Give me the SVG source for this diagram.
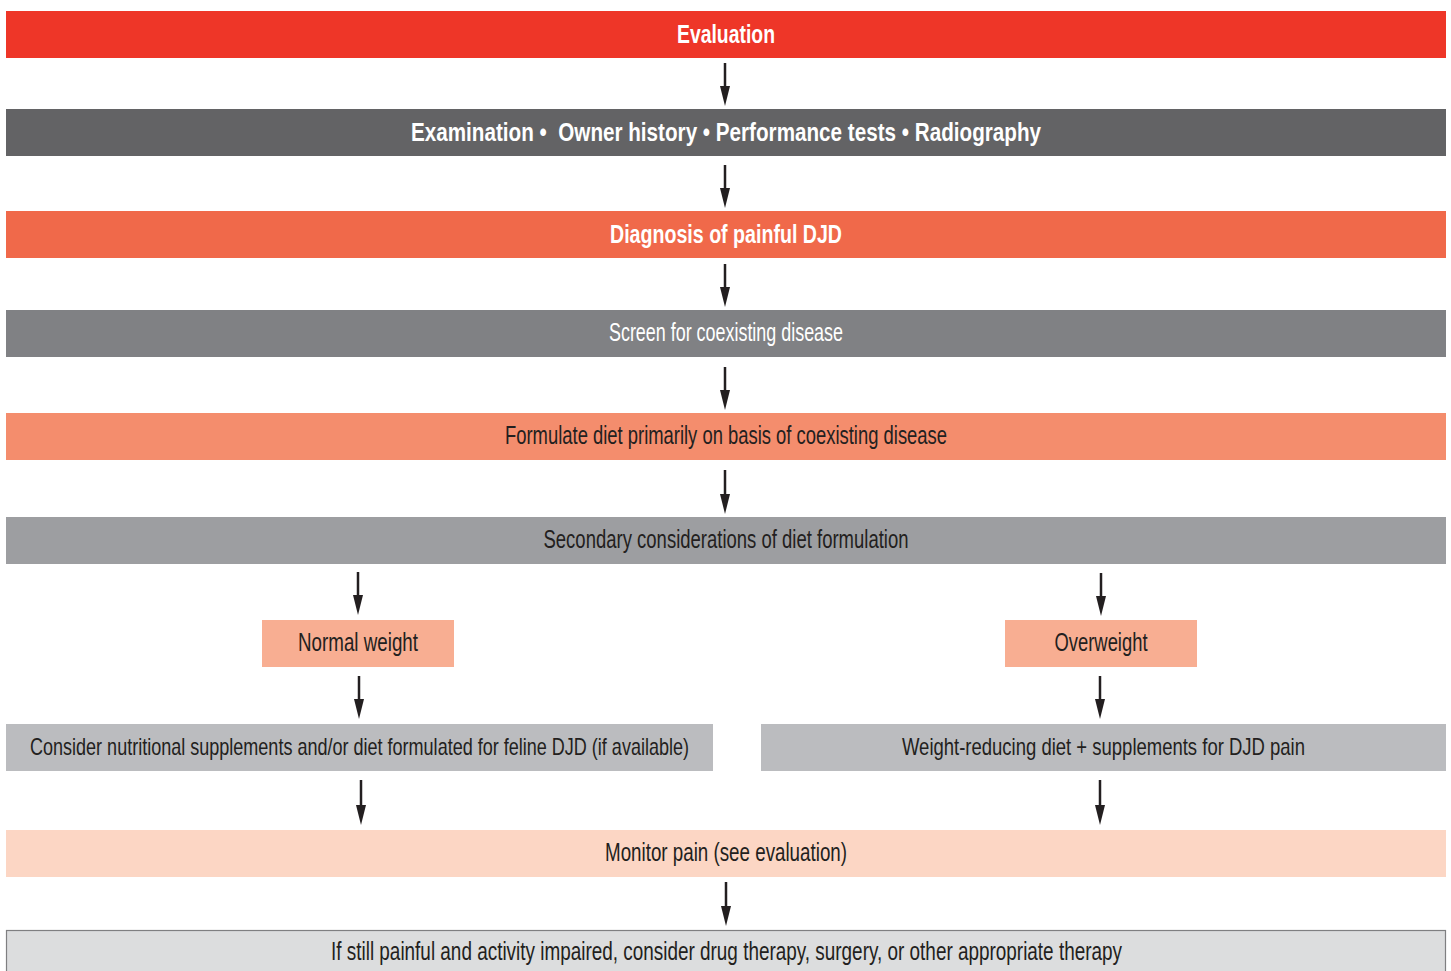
<svg xmlns="http://www.w3.org/2000/svg" width="1451" height="971" viewBox="0 0 1451 971">
<defs>
<marker id="ah" viewBox="0 0 20 10" refX="10" refY="5" markerWidth="20" markerHeight="10" markerUnits="userSpaceOnUse" orient="auto">
<path d="M0,0 L20,5 L0,10 Z" fill="#231F20"/>
</marker>
</defs>
<style>
text{font-family:"Liberation Sans Narrow","Liberation Sans",Arial,sans-serif;font-size:26px;text-anchor:middle}
.s{font-size:24px}
.w{fill:#FFFFFF}
.wb{fill:#FFFFFF;font-weight:bold}
.d{fill:#231F20}
.c line{stroke:#231F20;stroke-width:2.5;marker-end:url(#ah)}
</style>
<rect width="1451" height="971" fill="#FFFFFF"/>
<g id="n1"><rect x="6" y="11" width="1440" height="47" fill="#EE3628"/><text class="wb" x="726" y="43" textLength="98" lengthAdjust="spacingAndGlyphs">Evaluation</text></g>
<g id="n2"><rect x="6" y="109" width="1440" height="47" fill="#636365"/><text class="wb" x="726" y="141" textLength="630" lengthAdjust="spacingAndGlyphs" xml:space="preserve">Examination •  Owner history • Performance tests • Radiography</text></g>
<g id="n3"><rect x="6" y="211" width="1440" height="47" fill="#F0694A"/><text class="wb" x="726" y="243" textLength="232" lengthAdjust="spacingAndGlyphs">Diagnosis of painful DJD</text></g>
<g id="n4"><rect x="6" y="310" width="1440" height="47" fill="#808184"/><text class="w" x="726" y="341" textLength="234" lengthAdjust="spacingAndGlyphs">Screen for coexisting disease</text></g>
<g id="n5"><rect x="6" y="413" width="1440" height="47" fill="#F48D6D"/><text class="d" x="726" y="444" textLength="442" lengthAdjust="spacingAndGlyphs">Formulate diet primarily on basis of coexisting disease</text></g>
<g id="n6"><rect x="6" y="517" width="1440" height="47" fill="#9D9EA1"/><text class="d" x="726" y="548" textLength="365" lengthAdjust="spacingAndGlyphs">Secondary considerations of diet formulation</text></g>
<g id="n7"><rect x="262" y="620" width="192" height="47" fill="#F8AE92"/><text class="d" x="358" y="651" textLength="120" lengthAdjust="spacingAndGlyphs">Normal weight</text></g>
<g id="n8"><rect x="1005" y="620" width="192" height="47" fill="#F8AE92"/><text class="d" x="1101" y="651" textLength="93" lengthAdjust="spacingAndGlyphs">Overweight</text></g>
<g id="n9"><rect x="6" y="724" width="707" height="47" fill="#BBBCBF"/><text class="d s" x="359.5" y="755" textLength="659" lengthAdjust="spacingAndGlyphs">Consider nutritional supplements and/or diet formulated for feline DJD (if available)</text></g>
<g id="n10"><rect x="761" y="724" width="685" height="47" fill="#BBBCBF"/><text class="d s" x="1103.5" y="755" textLength="403" lengthAdjust="spacingAndGlyphs">Weight-reducing diet + supplements for DJD pain</text></g>
<g id="n11"><rect x="6" y="830" width="1440" height="47" fill="#FCD6C4"/><text class="d" x="726" y="861" textLength="242" lengthAdjust="spacingAndGlyphs">Monitor pain (see evaluation)</text></g>
<g id="n12"><rect x="6.5" y="930.5" width="1439" height="45" fill="#DCDDDE" stroke="#7F7F81" stroke-width="1.2"/><text class="d" x="726.5" y="960" textLength="791" lengthAdjust="spacingAndGlyphs">If still painful and activity impaired, consider drug therapy, surgery, or other appropriate therapy</text></g>
<g id="connectors" class="c">
<line x1="725" y1="63" x2="725" y2="96"/>
<line x1="725" y1="165" x2="725" y2="198"/>
<line x1="725" y1="264" x2="725" y2="297"/>
<line x1="725" y1="367" x2="725" y2="400"/>
<line x1="725" y1="470" x2="725" y2="504"/>
<line x1="358" y1="572" x2="358" y2="605"/>
<line x1="1101" y1="573" x2="1101" y2="606"/>
<line x1="359" y1="676" x2="359" y2="709"/>
<line x1="1100" y1="676" x2="1100" y2="709"/>
<line x1="361" y1="780" x2="361" y2="815"/>
<line x1="1100" y1="780" x2="1100" y2="815"/>
<line x1="726" y1="882" x2="726" y2="916"/>
</g>
</svg>
